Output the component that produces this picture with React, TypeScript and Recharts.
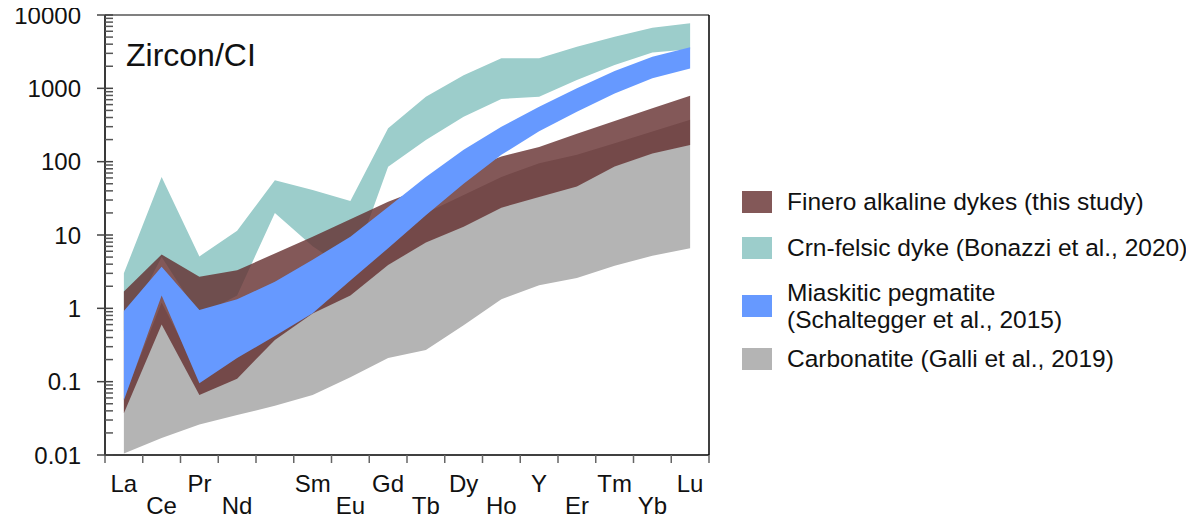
import { AreaChart, Area, XAxis, YAxis, ReferenceLine, Legend } from "recharts";

const FONT = '"Liberation Sans", Arial, Helvetica, sans-serif';

// REE + Y order, chondrite-normalised (Pm has no label)
const elements = ["La", "Ce", "Pr", "Nd", "Pm", "Sm", "Eu", "Gd", "Tb", "Dy", "Ho", "Y", "Er", "Tm", "Yb", "Lu"];
const unlabelled = ["Pm"];

// Finero alkaline dykes (this study)
const fineroLow = [0.037, 0.6, 0.066, 0.11, 0.37, 0.85, 1.5, 3.9, 7.9, 13, 23.6, 33, 46, 86, 129, 169];
const fineroHigh = [1.69, 5.4, 2.7, 3.3, 5.6, 9.5, 16.4, 28.5, 45, 75, 118, 158, 240, 359, 534, 794];

// Crn-felsic dyke (Bonazzi et al., 2020)
const crnLow = [0.5, 5.0, 0.8, 1.5, 20, 7, 3.2, 85, 197, 411, 716, 770, 1300, 2080, 3090, 3400];
const crnHigh = [3.0, 62, 5.1, 11.4, 56, 41, 29, 285, 770, 1510, 2570, 2570, 3700, 5070, 6710, 7700];

// Miaskitic pegmatite (Schaltegger et al., 2015)
const miaLow = [0.056, 1.5, 0.095, 0.21, 0.42, 0.86, 2.4, 6.6, 18.6, 50, 124, 260, 480, 850, 1370, 1870];
const miaHigh = [0.92, 3.7, 0.95, 1.33, 2.3, 4.6, 9.5, 24, 62, 145, 300, 560, 1000, 1720, 2700, 3630];

// Carbonatite (Galli et al., 2019)
const carbLow = [0.0105, 0.017, 0.026, 0.035, 0.047, 0.066, 0.115, 0.21, 0.27, 0.59, 1.33, 2.06, 2.6, 3.8, 5.2, 6.6];
const carbHigh = [0.06, 1.2, 0.12, 0.3, 0.6, 1.2, 3.0, 7.5, 20, 35, 62, 95, 124, 178, 257, 372];

const decades = [0.01, 0.1, 1, 10, 100, 1000, 10000];
const minorSteps = [2, 3, 4, 5, 6, 7, 8, 9];

const series = [
  { key: "finero", name: "Finero alkaline dykes (this study)", fill: "#642e2e", opacity: 0.8 },
  { key: "crn", name: "Crn-felsic dyke (Bonazzi et al., 2020)", fill: "#9ccdcb", opacity: 1 },
  { key: "mia", name: "Miaskitic pegmatite\n(Schaltegger et al., 2015)", fill: "#6699ff", opacity: 1 },
  { key: "carb", name: "Carbonatite (Galli et al., 2019)", fill: "#b4b4b4", opacity: 1 },
];

const rows = elements.map((el, i) => ({
  el,
  x: i,
  finero: [fineroLow[i], fineroHigh[i]],
  crn: [crnLow[i], crnHigh[i]],
  mia: [miaLow[i], miaHigh[i]],
  carb: [carbLow[i], carbHigh[i]],
}));

const minorTicks = decades.slice(0, -1).flatMap((d) => minorSteps.map((m) => d * m));
const yTicks = [...decades, ...minorTicks];
const xTicks = elements.map((_, i) => i);

const W = 1186;
const H = 520;
const MARGIN = { top: 15, right: 485, bottom: 0, left: 0 };
const Y_AXIS_W = 97;
const X_AXIS_H = 65;
const STEP = (W - MARGIN.right - MARGIN.left - Y_AXIS_W) / elements.length;

function DecadeTick({ x, y, payload }: any) {
  const v = payload.value;
  const major = decades.includes(v);
  if (!major) {
    return <line x1={x} x2={x + 8} y1={y} y2={y} stroke="#555" strokeWidth={1.5} />;
  }
  return (
    <g>
      <line x1={x - 8} x2={x + 8} y1={y} y2={y} stroke="#444" strokeWidth={1.5} />
      <text x={x - 24} y={y} dy="0.36em" textAnchor="end" fontSize={24} fill="#111" fontFamily={FONT}>
        {String(v)}
      </text>
    </g>
  );
}

function ElementTick({ x, y, payload }: any) {
  const i = payload.value;
  const el = elements[i];
  const shown = elements.filter((e) => !unlabelled.includes(e));
  const k = shown.indexOf(el);
  const lower = k % 2 === 1;
  const left = x - STEP / 2;
  return (
    <g>
      <line x1={left} x2={left} y1={y} y2={y + 8} stroke="#666" strokeWidth={1.5} />
      {i === elements.length - 1 && (
        <line x1={x + STEP / 2} x2={x + STEP / 2} y1={y} y2={y + 8} stroke="#666" strokeWidth={1.5} />
      )}
      {k >= 0 && (
        <text x={x} y={y + (lower ? 59 : 37)} textAnchor="middle" fontSize={24} fill="#111" fontFamily={FONT}>
          {el}
        </text>
      )}
    </g>
  );
}

const rowGaps = [0, 19, 18, 12];

function LegendBox() {
  return (
    <div style={{ display: "flex", flexDirection: "column", fontFamily: FONT }}>
      {series.map((s, i) => (
        <div key={s.key} style={{ display: "flex", alignItems: "center", marginTop: rowGaps[i] }}>
          <div style={{ width: 30, height: 22, background: s.fill, opacity: s.opacity, flex: "none" }} />
          <div
            style={{
              marginLeft: 15,
              fontSize: 24.5,
              lineHeight: "27px",
              color: "#111",
              whiteSpace: "pre-line",
            }}
          >
            {s.name}
          </div>
        </div>
      ))}
    </div>
  );
}

export default function App() {
  // drawn bottom to top: carbonatite, Crn-felsic, Finero, miaskitic
  const drawOrder = ["carb", "crn", "finero", "mia"];
  return (
    <div style={{ position: "relative", width: W, height: H, marginTop: -8, fontFamily: FONT }}>
      <AreaChart width={W} height={H} data={rows} margin={MARGIN}>
        <XAxis
          type="number"
          dataKey="x"
          domain={[-0.5, 15.5]}
          ticks={xTicks}
          interval={0}
          tickSize={0}
          tickMargin={0}
          tickLine={false}
          axisLine={{ stroke: "#000", strokeWidth: 1.5 }}
          tick={(p: any) => <ElementTick {...p} />}
          height={X_AXIS_H}
          allowDataOverflow
        />
        <YAxis
          scale="log"
          domain={[0.01, 10000]}
          ticks={yTicks}
          interval={0}
          tickSize={0}
          tickMargin={0}
          tickLine={false}
          axisLine={{ stroke: "#3a3a3a", strokeWidth: 2 }}
          tick={(p: any) => <DecadeTick {...p} />}
          width={Y_AXIS_W}
          allowDataOverflow
        />
        {drawOrder.map((key) => {
          const s = series.find((d) => d.key === key)!;
          return (
            <Area
              key={key}
              type="linear"
              dataKey={key}
              name={s.name}
              stroke="none"
              fill={s.fill}
              fillOpacity={s.opacity}
              dot={false}
              activeDot={false}
              isAnimationActive={false}
            />
          );
        })}
        <ReferenceLine y={10000} stroke="#808080" strokeWidth={2} />
        <ReferenceLine x={15.5} stroke="#000" strokeWidth={1.5} />
        <Legend
          layout="vertical"
          align="center"
          verticalAlign="middle"
          wrapperStyle={{ left: 734, top: 188, width: 450 }}
          content={() => <LegendBox />}
        />
      </AreaChart>
      <div
        style={{
          position: "absolute",
          left: 118,
          top: 39,
          fontSize: 32,
          lineHeight: "32px",
          color: "#111",
        }}
      >
        Zircon/CI
      </div>
    </div>
  );
}
